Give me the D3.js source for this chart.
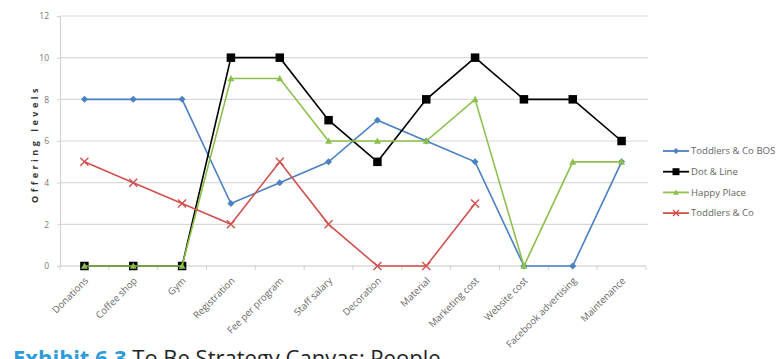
<!DOCTYPE html>
<html>
<head>
<meta charset="utf-8">
<script src="https://cdn.jsdelivr.net/npm/d3@7"></script>
<style>
  html, body { margin: 0; padding: 0; background: #fff; }
  svg { display: block; }
</style>
</head>
<body>
<svg id="chart" width="778" height="359"></svg>
<script>
// Strategy canvas: offering levels per factor for four competitors
const categories = ["Donations", "Coffee shop", "Gym", "Registration", "Fee per program",
  "Staff salary", "Decoration", "Material", "Marketing cost", "Website cost",
  "Facebook advertising", "Maintenance"];

const toddlersBOS = [8, 8, 8, 3, 4, 5, 7, 6, 5, 0, 0, 5];
const dotLine     = [0, 0, 0, 10, 10, 7, 5, 8, 10, 8, 8, 6];
const happyPlace  = [0, 0, 0, 9, 9, 6, 6, 6, 8, 0, 5, 5];
const toddlersCo  = [5, 4, 3, 2, 5, 2, 0, 0, 3, null, null, null];

const yTicks = [0, 2, 4, 6, 8, 10, 12];

const seriesList = [
  { name: "Toddlers & Co BOS", values: toddlersBOS, color: "#4a80c4", marker: "diamond" },
  { name: "Dot & Line",        values: dotLine,     color: "#000000", marker: "square" },
  { name: "Happy Place",       values: happyPlace,  color: "#8cc04a", marker: "triangle" },
  { name: "Toddlers & Co",     values: toddlersCo,  color: "#d0504d", marker: "cross" }
];

const svg = d3.select("#chart");
const plotLeft = 60, plotRight = 646, plotTop = 16, plotBottom = 266;

const x = d3.scaleBand().domain(categories).range([plotLeft, plotRight]);
const y = d3.scaleLinear().domain([0, 12]).range([plotBottom, plotTop]);
const cx = c => x(c) + x.bandwidth() / 2;

// horizontal gridlines
svg.append("g").selectAll("line").data(yTicks.filter(t => t > 0)).join("line")
  .attr("x1", plotLeft).attr("x2", plotRight + 2)
  .attr("y1", d => y(d)).attr("y2", d => y(d))
  .attr("stroke", "#d9d9d9").attr("stroke-width", 1.2);

// y axis
const yAxis = svg.append("g").attr("transform", `translate(${plotLeft},0)`)
  .call(d3.axisLeft(y).tickValues(yTicks).tickSize(3).tickPadding(8));
yAxis.select(".domain").attr("stroke", "#cfcfcf");
yAxis.selectAll(".tick line").attr("stroke", "#cfcfcf");
yAxis.selectAll("text").attr("fill", "#777").style("font-family", "Open Sans, sans-serif").style("font-size", "8.5px");

// x axis with ticks between categories
const xAxis = svg.append("g").attr("transform", `translate(0,${plotBottom})`);
xAxis.append("line").attr("x1", plotLeft).attr("x2", plotRight)
  .attr("stroke", "#d9d9d9").attr("stroke-width", 1.5);
xAxis.selectAll(".sep").data(d3.range(categories.length + 1)).join("line")
  .attr("class", "sep")
  .attr("x1", i => plotLeft + i * x.bandwidth()).attr("x2", i => plotLeft + i * x.bandwidth())
  .attr("y1", 0).attr("y2", 4).attr("stroke", "#d0d0d0");
xAxis.selectAll(".lbl").data(categories).join("text")
  .attr("class", "lbl")
  .attr("transform", d => `translate(${cx(d) + 2},${13}) rotate(-45)`)
  .attr("text-anchor", "end")
  .attr("dy", "0.35em")
  .attr("fill", "#666")
  .style("font-family", "Open Sans, sans-serif")
  .style("font-size", "9.6px")
  .text(d => d);

// axis title
svg.append("text")
  .attr("transform", `translate(35,${(plotTop + plotBottom) / 2 + 3}) rotate(-90)`)
  .attr("text-anchor", "middle")
  .attr("dy", "0.35em")
  .attr("fill", "#333")
  .style("font-family", "Open Sans, sans-serif")
  .style("font-size", "9px")
  .style("font-weight", "bold")
  .style("letter-spacing", "3.5px")
  .text("Offering levels");

// markers (size = overall width in px)
function drawMarker(g, type, color, size) {
  const h = size / 2;
  if (type === "diamond") {
    g.append("path").attr("d", `M0,${-h}L${h},0L0,${h}L${-h},0Z`).attr("fill", color);
  } else if (type === "square") {
    g.append("rect").attr("x", -h).attr("y", -h).attr("width", size).attr("height", size)
      .attr("fill", color);
  } else if (type === "triangle") {
    g.append("path").attr("d", `M0,${-h}L${h},${h * 0.8}L${-h},${h * 0.8}Z`).attr("fill", color);
  } else if (type === "cross") {
    g.append("path").attr("d", `M${-h},${-h}L${h},${h}M${-h},${h}L${h},${-h}`)
      .attr("stroke", color).attr("stroke-width", 1.4).attr("fill", "none");
  }
}
const markerSize = { diamond: 7, square: 8.5, triangle: 7, cross: 8 };

const line = d3.line().defined(d => d.v !== null).x(d => cx(d.c)).y(d => y(d.v));

seriesList.forEach(s => {
  const pts = categories.map((c, i) => ({ c, v: s.values[i] }));
  svg.append("path").datum(pts)
    .attr("d", line)
    .attr("fill", "none")
    .attr("stroke", s.color)
    .attr("stroke-width", 1.6);
  svg.append("g").selectAll("g").data(pts.filter(d => d.v !== null)).join("g")
    .attr("transform", d => `translate(${cx(d.c)},${y(d.v)})`)
    .each(function() { drawMarker(d3.select(this), s.marker, s.color, markerSize[s.marker]); });
});

// legend
const legend = svg.append("g").attr("transform", "translate(663,151)");
seriesList.forEach((s, i) => {
  const g = legend.append("g").attr("transform", `translate(0,${i * 20.7})`);
  g.append("line").attr("x1", 0).attr("x2", 26).attr("stroke", s.color).attr("stroke-width", 1.8);
  const m = g.append("g").attr("transform", "translate(13,0)");
  drawMarker(m, s.marker, s.color, s.marker === "square" ? 7 : 6);
  g.append("text").attr("x", 28).attr("dy", "0.35em")
    .attr("fill", "#666")
    .style("font-family", "Open Sans, sans-serif")
    .style("font-size", "9.6px")
    .text(s.name);
});

// caption
const cap = svg.append("text").attr("x", 13).attr("y", 366)
  .style("font-family", "Open Sans, sans-serif").style("font-size", "22px");
cap.append("tspan").attr("fill", "#2f9bd8").style("font-weight", "bold").text("Exhibit 6.3");
cap.append("tspan").attr("fill", "#222").text(" To Be Strategy Canvas: People");
</script>
</body>
</html>
